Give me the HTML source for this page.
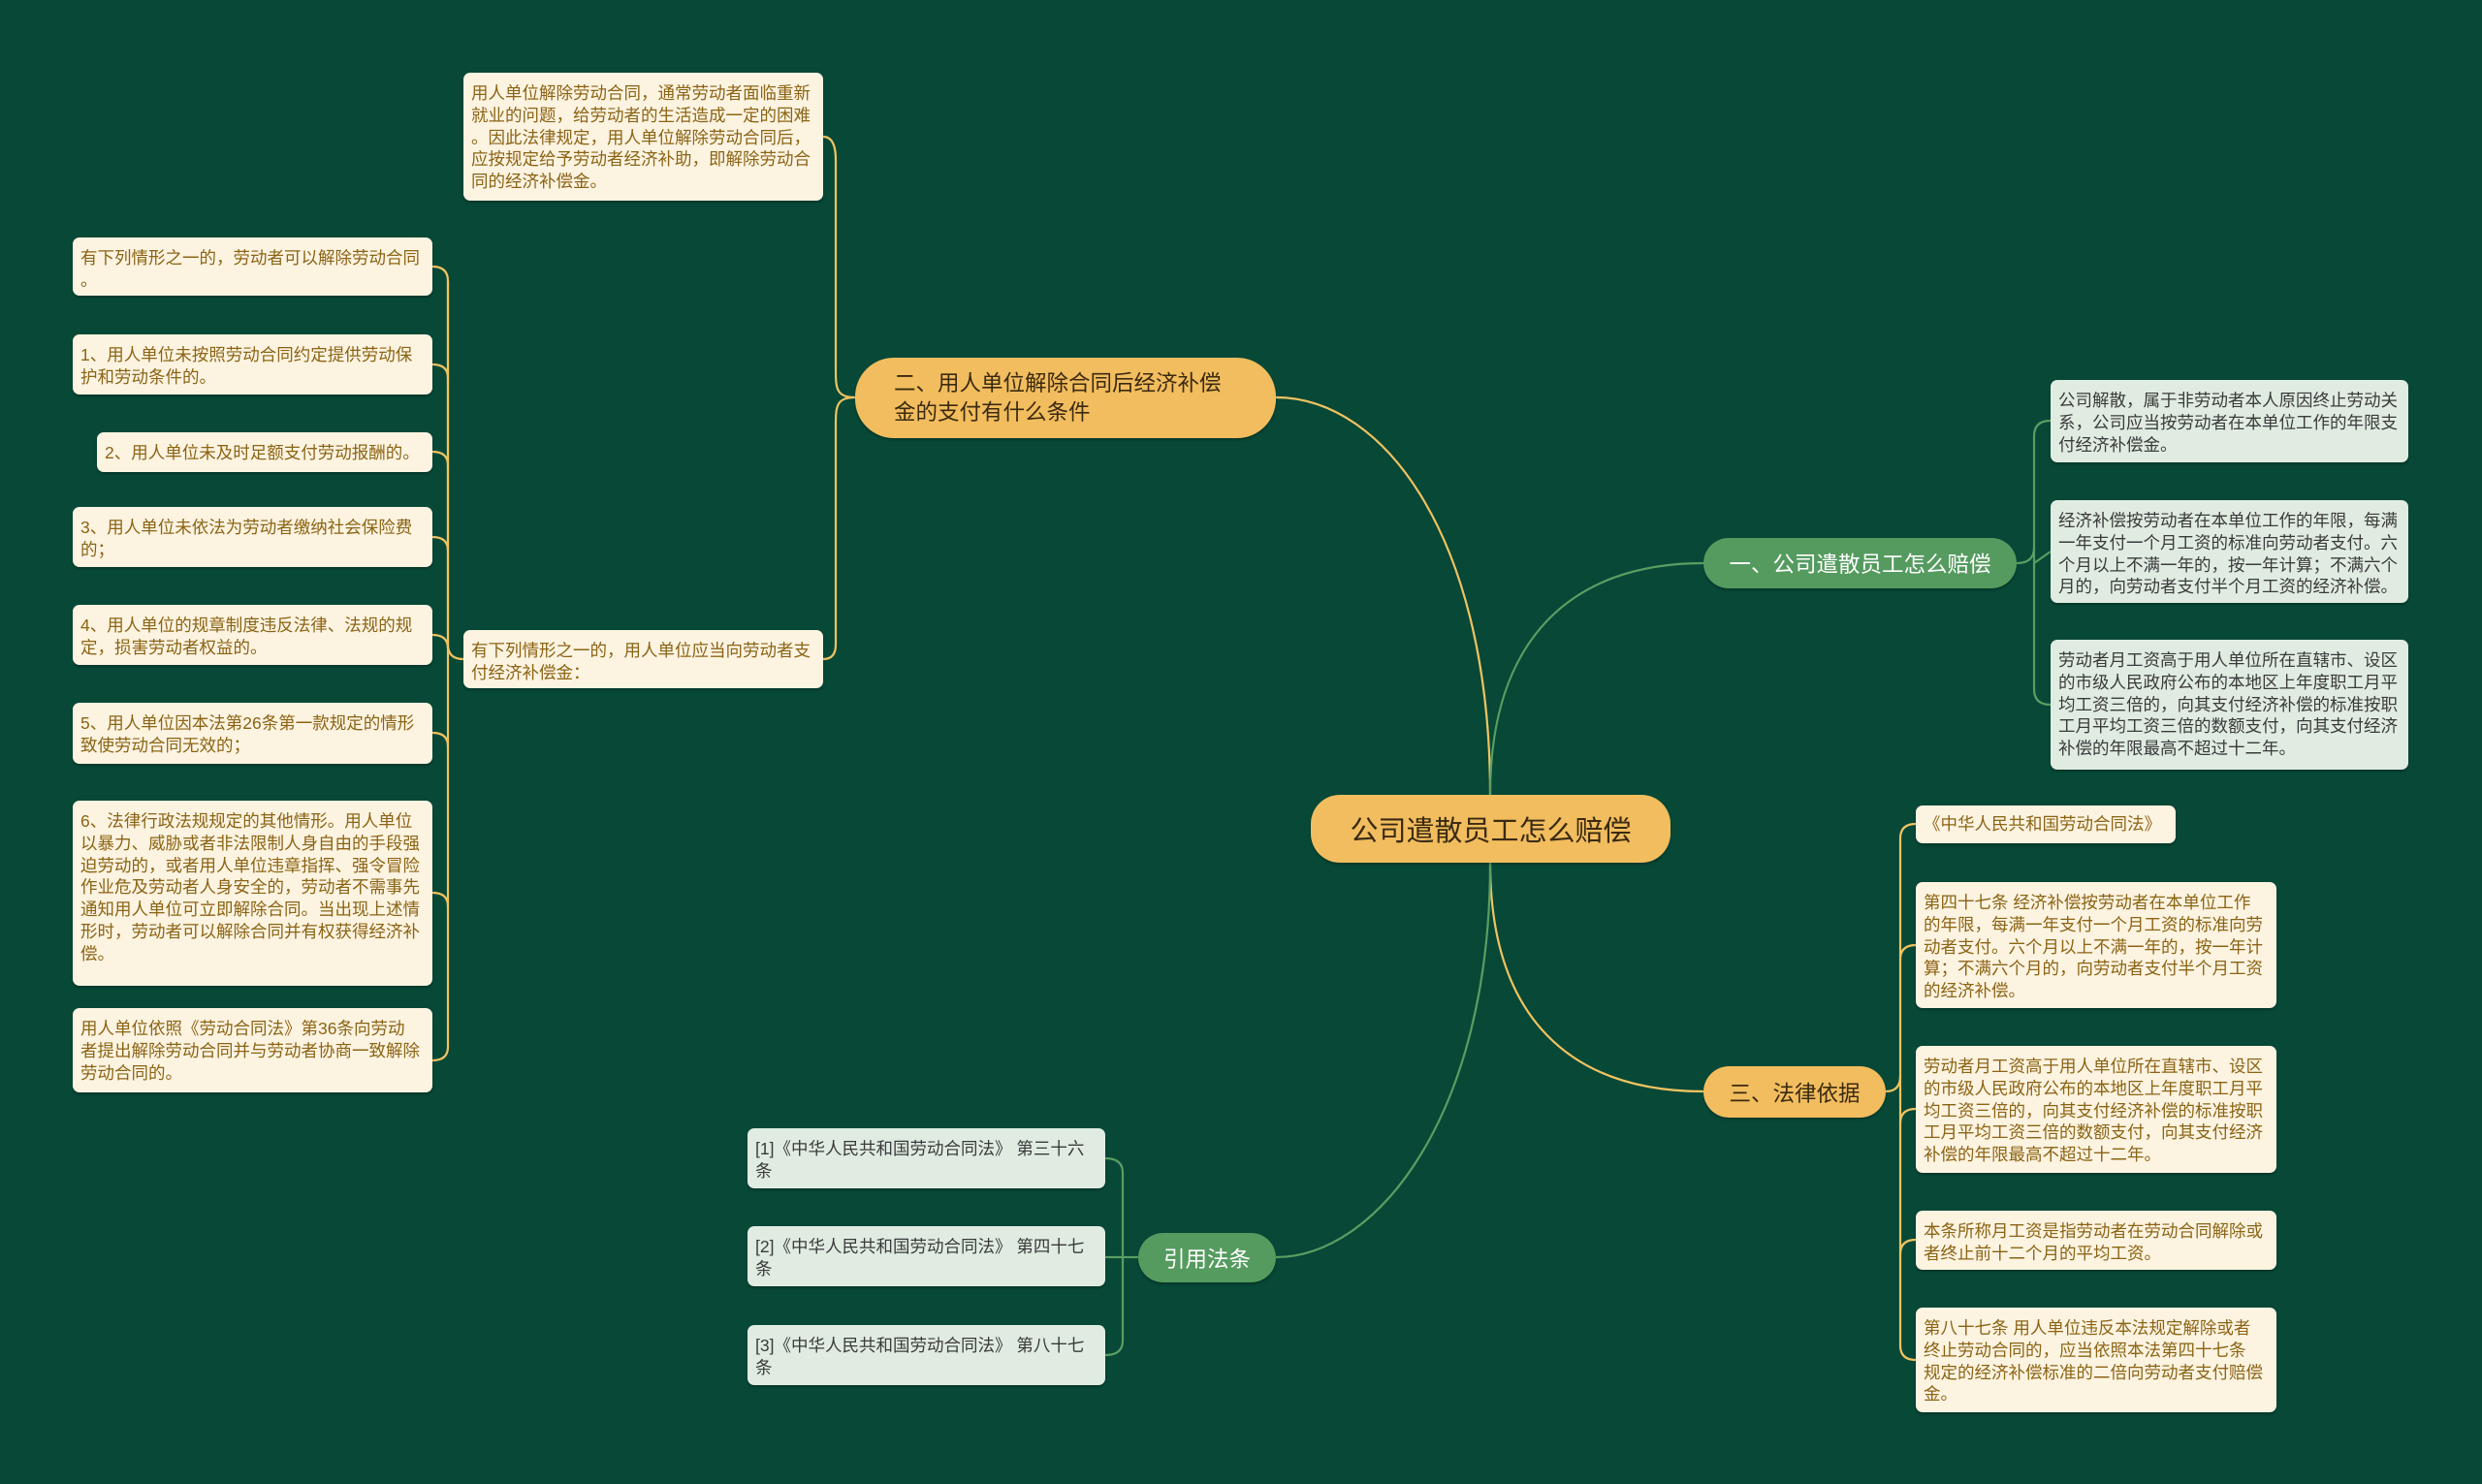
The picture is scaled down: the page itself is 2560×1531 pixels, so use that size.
<!DOCTYPE html>
<html><head><meta charset="utf-8"><style>
html,body{margin:0;padding:0}
body{width:2560px;height:1531px;background:#074837;position:relative;overflow:hidden;font-family:"Liberation Sans","Noto Sans CJK SC",sans-serif}
.n{position:absolute;box-sizing:border-box;border-radius:7px;font-size:17.5px;line-height:22.8px;padding:10px 8px 0 8px;white-space:nowrap;box-shadow:0 2px 2px rgba(0,0,0,.25)}
.c{background:#fdf3e1;color:#8b6414}
.g{background:#e0ece2;color:#3a3a3a}
.b{position:absolute;box-sizing:border-box;border-radius:30px;white-space:nowrap;display:flex;align-items:center;box-shadow:0 2px 2px rgba(0,0,0,.25)}
.y{background:#f2bd5e;color:#3a2a10}
.gr{background:#559b5f;color:#fff}
svg{position:absolute;left:0;top:0}
</style></head><body>
<svg width="2560" height="1531" fill="none" stroke-width="2.2">
<g stroke="#f0c360">
<path d="M1537 820 C1537 560,1430 410,1316 410"/>
<path d="M1537 890 C1537 1050,1620 1126,1757 1126"/>
<path d="M882 410 C862 410,862 400,862 380 L862 165 Q862 141,849 141"/>
<path d="M882 410 C862 410,862 420,862 440 L862 665 Q862 680,849 680"/>
<path d="M478 680 Q462 680,462 665 L462 290 Q462 275,446 275"/>
<path d="M462 290 L462 1080 Q462 1094,446 1094"/>
<path d="M462 390 Q462 376,446 376"/><path d="M462 480 Q462 466,446 466"/>
<path d="M462 568 Q462 554,446 554"/><path d="M462 669 Q462 655,446 655"/>
<path d="M462 770 Q462 756,446 756"/><path d="M462 935 Q462 921,446 921"/>
<path d="M1945 1126 Q1960 1126,1960 1110 L1960 865 Q1960 850,1976 850"/>
<path d="M1960 1110 L1960 1388 Q1960 1403,1976 1403"/>
<path d="M1960 990 Q1960 975,1976 975"/><path d="M1960 1159 Q1960 1144,1976 1144"/>
<path d="M1960 1294 Q1960 1279,1976 1279"/>
</g>
<g stroke="#5a9e62">
<path d="M1537 820 C1537 660,1620 581,1757 581"/>
<path d="M1537 890 C1537 1150,1420 1297,1316 1297"/>
<path d="M2080 581 Q2098 581,2098 565 L2098 450 Q2098 434,2115 434"/>
<path d="M2098 565 L2098 711 Q2098 727,2115 727"/>
<path d="M2098 581 L2115 569"/>
<path d="M1174 1297 L1158 1297"/>
<path d="M1158 1297 L1158 1210 Q1158 1195,1140 1195"/>
<path d="M1158 1297 L1158 1383 Q1158 1398,1140 1398"/>
<path d="M1158 1297 L1140 1297"/>
</g>
</svg>

<div class="b y" style="left:1352px;top:820px;width:371px;height:70px;justify-content:center;font-size:29px">公司遣散员工怎么赔偿</div>
<div class="b y" style="left:882px;top:369px;width:434px;height:83px;padding-left:40px;font-size:22.5px;line-height:30px;border-radius:40px">二、用人单位解除合同后经济补偿<br>金的支付有什么条件</div>
<div class="b gr" style="left:1757px;top:555px;width:323px;height:52px;justify-content:center;font-size:22.5px">一、公司遣散员工怎么赔偿</div>
<div class="b y" style="left:1757px;top:1100px;width:188px;height:53px;justify-content:center;font-size:22.5px">三、法律依据</div>
<div class="b gr" style="left:1174px;top:1272px;width:142px;height:51px;justify-content:center;font-size:22.5px">引用法条</div>

<div class="n c" style="left:478px;top:75px;width:371px;height:132px">用人单位解除劳动合同，通常劳动者面临重新<br>就业的问题，给劳动者的生活造成一定的困难<br>。因此法律规定，用人单位解除劳动合同后，<br>应按规定给予劳动者经济补助，即解除劳动合<br>同的经济补偿金。</div>
<div class="n c" style="left:478px;top:650px;width:371px;height:60px">有下列情形之一的，用人单位应当向劳动者支<br>付经济补偿金：</div>

<div class="n c" style="left:75px;top:245px;width:371px;height:60px">有下列情形之一的，劳动者可以解除劳动合同<br>。</div>
<div class="n c" style="left:75px;top:345px;width:371px;height:62px">1、用人单位未按照劳动合同约定提供劳动保<br>护和劳动条件的。</div>
<div class="n c" style="left:100px;top:446px;width:346px;height:41px">2、用人单位未及时足额支付劳动报酬的。</div>
<div class="n c" style="left:75px;top:523px;width:371px;height:62px">3、用人单位未依法为劳动者缴纳社会保险费<br>的；</div>
<div class="n c" style="left:75px;top:624px;width:371px;height:62px">4、用人单位的规章制度违反法律、法规的规<br>定，损害劳动者权益的。</div>
<div class="n c" style="left:75px;top:725px;width:371px;height:63px">5、用人单位因本法第26条第一款规定的情形<br>致使劳动合同无效的；</div>
<div class="n c" style="left:75px;top:826px;width:371px;height:191px">6、法律行政法规规定的其他情形。用人单位<br>以暴力、威胁或者非法限制人身自由的手段强<br>迫劳动的，或者用人单位违章指挥、强令冒险<br>作业危及劳动者人身安全的，劳动者不需事先<br>通知用人单位可立即解除合同。当出现上述情<br>形时，劳动者可以解除合同并有权获得经济补<br>偿。</div>
<div class="n c" style="left:75px;top:1040px;width:371px;height:87px">用人单位依照《劳动合同法》第36条向劳动<br>者提出解除劳动合同并与劳动者协商一致解除<br>劳动合同的。</div>

<div class="n g" style="left:2115px;top:392px;width:369px;height:85px">公司解散，属于非劳动者本人原因终止劳动关<br>系，公司应当按劳动者在本单位工作的年限支<br>付经济补偿金。</div>
<div class="n g" style="left:2115px;top:516px;width:369px;height:106px">经济补偿按劳动者在本单位工作的年限，每满<br>一年支付一个月工资的标准向劳动者支付。六<br>个月以上不满一年的，按一年计算；不满六个<br>月的，向劳动者支付半个月工资的经济补偿。</div>
<div class="n g" style="left:2115px;top:660px;width:369px;height:134px">劳动者月工资高于用人单位所在直辖市、设区<br>的市级人民政府公布的本地区上年度职工月平<br>均工资三倍的，向其支付经济补偿的标准按职<br>工月平均工资三倍的数额支付，向其支付经济<br>补偿的年限最高不超过十二年。</div>

<div class="n c" style="left:1976px;top:831px;width:268px;height:39px;padding-top:8px">《中华人民共和国劳动合同法》</div>
<div class="n c" style="left:1976px;top:910px;width:372px;height:130px">第四十七条 经济补偿按劳动者在本单位工作<br>的年限，每满一年支付一个月工资的标准向劳<br>动者支付。六个月以上不满一年的，按一年计<br>算；不满六个月的，向劳动者支付半个月工资<br>的经济补偿。</div>
<div class="n c" style="left:1976px;top:1079px;width:372px;height:131px">劳动者月工资高于用人单位所在直辖市、设区<br>的市级人民政府公布的本地区上年度职工月平<br>均工资三倍的，向其支付经济补偿的标准按职<br>工月平均工资三倍的数额支付，向其支付经济<br>补偿的年限最高不超过十二年。</div>
<div class="n c" style="left:1976px;top:1249px;width:372px;height:61px">本条所称月工资是指劳动者在劳动合同解除或<br>者终止前十二个月的平均工资。</div>
<div class="n c" style="left:1976px;top:1349px;width:372px;height:108px">第八十七条 用人单位违反本法规定解除或者<br>终止劳动合同的，应当依照本法第四十七条<br>规定的经济补偿标准的二倍向劳动者支付赔偿<br>金。</div>

<div class="n g" style="left:771px;top:1164px;width:369px;height:62px">[1]《中华人民共和国劳动合同法》 第三十六<br>条</div>
<div class="n g" style="left:771px;top:1265px;width:369px;height:62px">[2]《中华人民共和国劳动合同法》 第四十七<br>条</div>
<div class="n g" style="left:771px;top:1367px;width:369px;height:62px">[3]《中华人民共和国劳动合同法》 第八十七<br>条</div>
</body></html>
